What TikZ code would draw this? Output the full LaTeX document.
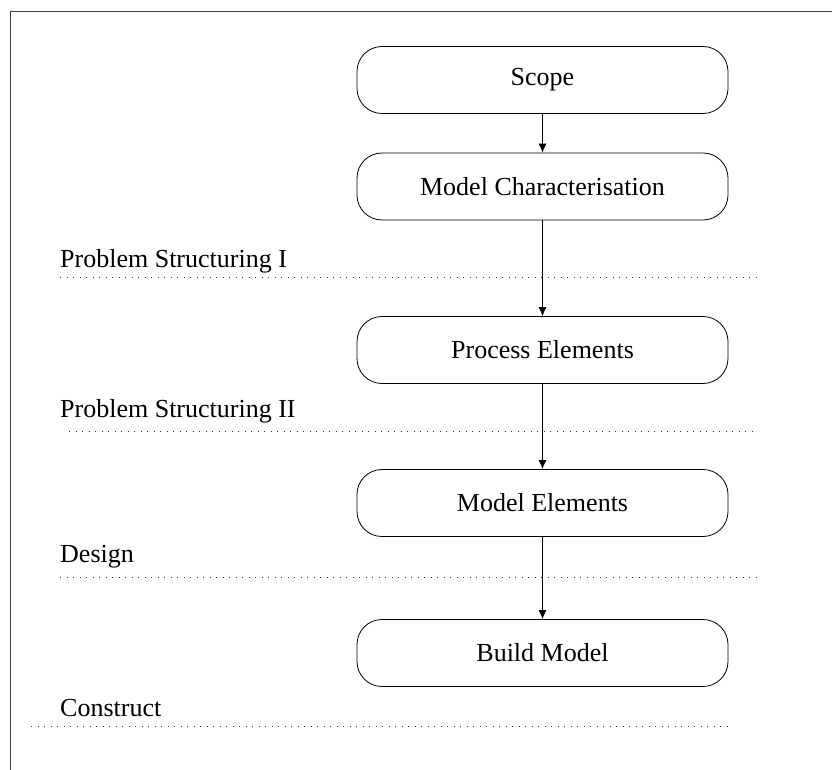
\documentclass[tikz,border=0pt]{standalone}
\usepackage{fontspec}
\setmainfont{Liberation Serif}
\usetikzlibrary{arrows.meta}
\begin{document}
\begin{tikzpicture}[x=1pt,y=-1pt,
  stage/.style={draw=black, line width=0.8pt, rounded corners=25pt,
    minimum width=371pt, minimum height=67pt, inner sep=0pt,
    font=\fontsize{26}{30}\selectfont},
  phase/.style={anchor=base west, inner sep=0pt,
    font=\fontsize{26}{30}\selectfont},
  divider/.style={draw=black!80, line width=1pt, dash pattern=on 0.9pt off 5.6pt},
  flow/.style={draw=black, line width=0.8pt, -{Latex[length=9pt,width=8pt]}},
  frameline/.style={draw=black!75, line width=1.2pt}]
\useasboundingbox (0,0) rectangle (832,770);
\fill[white] (0,0) rectangle (832,770);
% frame (only top and left edges visible)
\coordinate (ftl) at (10.5,11.5);
\coordinate (ftr) at (832,11.5);
\coordinate (fbl) at (10.5,770);
\draw[frameline] (fbl) -- (ftl) -- (ftr);
% stages
\node[stage] (scope) at (542.5,80) {Scope};
\node[stage] (mchar) at (542.5,186.5) {Model Characterisation};
\node[stage] (proc) at (542.5,350) {Process Elements};
\node[stage] (melem) at (542.5,503) {Model Elements};
\node[stage] (build) at (542.5,653) {Build Model};
% phase labels
\node[phase] (ps1) at (60,267) {Problem Structuring I};
\node[phase] (ps2) at (60,417) {Problem Structuring II};
\node[phase] (des) at (60,562) {Design};
\node[phase] (con) at (60,716) {Construct};
% dividers
\coordinate (d1a) at (60,277);  \coordinate (d1b) at (757,277);
\coordinate (d2a) at (69,431);  \coordinate (d2b) at (757,431);
\coordinate (d3a) at (60,577);  \coordinate (d3b) at (757,577);
\coordinate (d4a) at (31,726);  \coordinate (d4b) at (728,726);
\draw[divider] (d1a) -- (d1b);
\draw[divider] (d2a) -- (d2b);
\draw[divider] (d3a) -- (d3b);
\draw[divider] (d4a) -- (d4b);
% flow arrows
\draw[flow] (scope) -- (mchar);
\draw[flow] (mchar) -- (proc);
\draw[flow] (proc) -- (melem);
\draw[flow] (melem) -- (build);
\end{tikzpicture}
\end{document}
